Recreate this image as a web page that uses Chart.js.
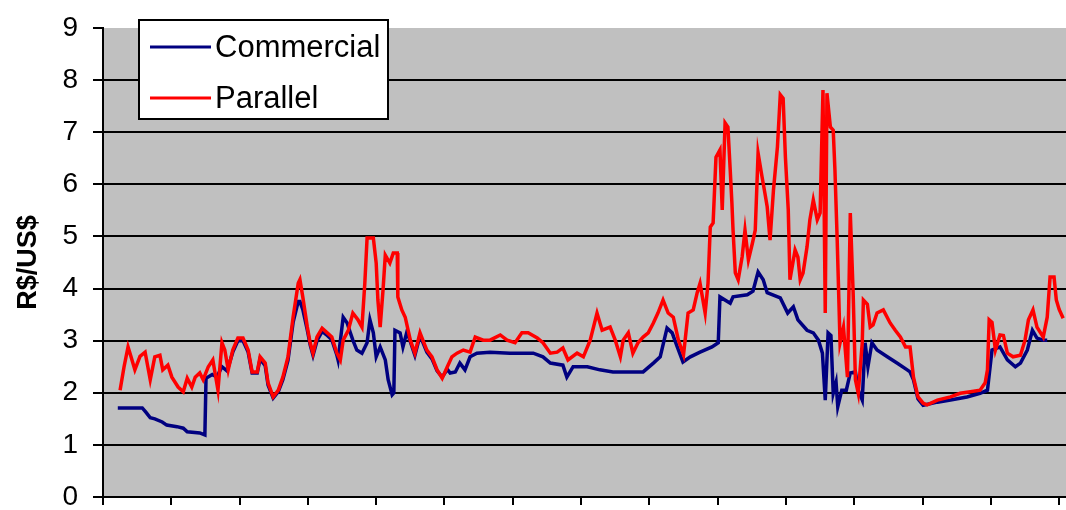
<!DOCTYPE html>
<html>
<head>
<meta charset="utf-8">
<script src="https://cdn.jsdelivr.net/npm/chart.js@4.4.1/dist/chart.umd.min.js"></script>
<style>
  body { margin: 0; background: #fff; }
  #wrap { width: 1066px; height: 510px; position: relative; }
</style>
</head>
<body>
<div id="wrap"><canvas id="fxChart"></canvas></div>
<script>
// x = months since start of axis (one tick every 12 months)
const parallelMonths = [
  3.0, 3.7, 4.4, 4.9, 5.6, 6.5, 7.4, 8.3, 9.1, 10.0, 10.5, 11.4, 12.1, 13.2, 14.1, 14.8, 15.6, 16.2, 17.0, 17.6,
  18.5, 19.3, 20.2, 20.9, 21.4, 22.0, 22.8, 23.7, 24.6, 25.5, 26.2, 27.1, 27.6, 28.5, 29.0, 29.9, 30.8, 31.6, 32.5, 33.4,
  34.3, 34.6, 35.1, 35.9, 36.4, 36.9, 37.6, 38.5, 39.4, 40.2, 41.1, 41.7, 42.2, 43.1, 43.9, 44.8, 45.5, 46.0, 46.4, 47.5,
  48.0, 48.3, 48.7, 49.2, 49.6, 50.4, 51.0, 51.7, 51.8, 52.5, 53.1, 54.0, 54.8, 55.7, 56.2, 56.9, 57.8, 58.7, 59.6, 60.5,
  61.3, 62.2, 63.3, 64.5, 65.4, 66.8, 68.0, 69.8, 71.0, 72.4, 73.6, 74.7, 76.3, 77.3, 78.6, 79.8, 80.8, 81.7, 83.3, 84.4,
  85.6, 86.8, 87.7, 89.1, 90.0, 90.9, 91.4, 92.3, 93.1, 94.0, 94.9, 95.8, 96.7, 97.5, 98.4, 99.3, 100.2, 101.1, 102.0, 102.8,
  103.7, 104.4, 104.9, 105.8, 106.3, 106.7, 107.2, 107.7, 108.4, 108.8, 109.3, 109.8, 110.2, 110.5, 110.7, 111.1, 111.6, 112.3, 112.8, 113.4,
  114.1, 114.6, 115.1, 115.8, 116.3, 116.7, 117.2, 117.8, 118.5, 119.0, 119.5, 119.9, 120.4, 120.7, 121.6, 122.1, 122.5, 123.0, 123.7, 124.2,
  124.8, 125.5, 126.0, 126.5, 126.9, 127.2, 127.8, 128.3, 128.6, 129.0, 129.5, 130.1, 130.8, 131.3, 131.8, 132.2, 132.7, 133.4, 133.6, 134.3,
  134.8, 135.3, 136.0, 137.1, 138.3, 139.2, 140.1, 141.0, 141.8, 142.4, 143.2, 144.1, 144.8, 146.6, 148.9, 150.6, 152.4, 154.1, 155.0, 155.4,
  155.7, 156.2, 156.8, 157.6, 158.2, 158.9, 159.9, 161.2, 162.0, 162.6, 163.4, 164.1, 165.2, 165.9, 166.4, 167.1, 167.5, 168.0, 168.7
];
const parallel = [
  2.05, 2.50, 2.88, 2.70, 2.44, 2.70, 2.78, 2.25, 2.69, 2.72, 2.44, 2.53, 2.30, 2.11, 2.02, 2.28, 2.11, 2.30, 2.38, 2.25,
  2.50, 2.63, 2.05, 2.96, 2.82, 2.44, 2.82, 3.05, 3.05, 2.82, 2.40, 2.40, 2.69, 2.57, 2.19, 1.92, 2.05, 2.30, 2.69, 3.45,
  4.10, 4.17, 3.84, 3.26, 2.96, 2.76, 3.07, 3.24, 3.15, 3.07, 2.76, 2.63, 3.01, 3.20, 3.53, 3.40, 3.26, 4.10, 4.97, 4.97,
  4.49, 3.78, 3.26, 3.97, 4.64, 4.49, 4.68, 4.68, 3.84, 3.59, 3.45, 3.01, 2.76, 3.15, 3.01, 2.82, 2.69, 2.44, 2.28, 2.50,
  2.69, 2.76, 2.82, 2.78, 3.07, 3.01, 3.01, 3.11, 3.01, 2.96, 3.15, 3.15, 3.05, 2.96, 2.76, 2.78, 2.86, 2.63, 2.76, 2.69,
  3.01, 3.53, 3.20, 3.26, 3.01, 2.69, 3.01, 3.15, 2.76, 2.96, 3.07, 3.15, 3.34, 3.53, 3.78, 3.53, 3.45, 3.01, 2.73, 3.53,
  3.59, 3.92, 4.10, 3.53, 4.10, 5.18, 5.26, 6.52, 6.66, 5.51, 7.18, 7.10, 6.28, 5.64, 5.12, 4.30, 4.17, 4.61, 5.12, 4.55,
  4.87, 5.12, 6.60, 6.14, 5.83, 5.57, 4.93, 5.89, 6.72, 7.72, 7.65, 6.52, 5.51, 4.17, 4.74, 4.60, 4.17, 4.30, 4.80, 5.32,
  5.70, 5.32, 5.45, 7.81, 3.53, 7.75, 7.10, 7.04, 6.28, 4.93, 2.96, 3.26, 2.30, 5.45, 3.92, 2.25, 1.99, 2.96, 3.78, 3.70,
  3.26, 3.30, 3.53, 3.59, 3.34, 3.20, 3.07, 2.88, 2.88, 2.30, 1.92, 1.80, 1.77, 1.86, 1.92, 1.99, 2.02, 2.05, 2.19, 2.44,
  3.40, 3.35, 2.82, 3.11, 3.10, 2.76, 2.69, 2.72, 3.01, 3.40, 3.59, 3.26, 3.07, 3.45, 4.22, 4.22, 3.78, 3.60, 3.43
];

const commercialMonths = [
  2.6, 4.7, 6.9, 7.6, 8.3, 9.1, 10.4, 11.2, 13.0, 14.1, 14.8, 17.0, 17.9, 18.1, 19.2, 20.0, 20.9, 21.8, 22.8, 23.7,
  24.6, 25.5, 26.2, 27.1, 27.6, 28.5, 29.0, 29.9, 30.8, 31.6, 32.5, 33.4, 34.3, 34.6, 35.1, 35.9, 36.4, 36.9, 37.6, 38.5,
  39.4, 40.2, 41.1, 41.3, 42.2, 42.9, 43.4, 43.9, 44.6, 45.5, 46.4, 46.9, 47.5, 48.0, 48.7, 49.6, 50.1, 50.8, 51.1, 51.3,
  52.2, 52.7, 53.4, 54.0, 54.8, 55.7, 56.2, 56.9, 57.8, 58.7, 59.6, 60.5, 61.0, 61.9, 62.7, 63.6, 64.5, 65.7, 68.0, 71.5,
  75.6, 77.3, 78.6, 80.8, 81.5, 82.6, 85.1, 87.3, 89.6, 92.1, 94.9, 96.7, 97.9, 99.1, 100.0, 100.9, 101.9, 103.2, 104.9, 107.0,
  108.1, 108.4, 110.2, 110.7, 113.2, 114.2, 115.1, 116.0, 116.7, 119.0, 120.3, 121.3, 122.1, 123.7, 124.8, 125.7, 126.4, 126.9, 127.4, 127.9,
  128.3, 128.8, 129.1, 129.8, 130.6, 131.3, 132.2, 132.7, 133.4, 133.9, 134.4, 135.1, 136.0, 137.8, 139.5, 141.3, 141.8, 142.4, 143.2, 144.1,
  146.6, 148.9, 151.8, 154.1, 155.4, 156.2, 157.6, 158.9, 160.3, 161.2, 162.4, 163.3, 164.1, 165.2, 165.9
];
const commercial = [
  1.71, 1.71, 1.71, 1.62, 1.52, 1.50, 1.44, 1.38, 1.35, 1.32, 1.25, 1.23, 1.19, 2.28, 2.35, 2.30, 2.50, 2.42, 2.78, 3.00,
  3.00, 2.78, 2.38, 2.38, 2.65, 2.52, 2.15, 1.90, 2.02, 2.25, 2.62, 3.35, 3.75, 3.75, 3.60, 3.20, 2.92, 2.72, 3.00, 3.18,
  3.10, 3.02, 2.72, 2.63, 3.45, 3.34, 3.17, 3.01, 2.82, 2.76, 2.96, 3.40, 3.15, 2.69, 2.88, 2.63, 2.25, 1.96, 2.00, 3.20,
  3.15, 2.88, 3.17, 2.98, 2.72, 3.10, 2.97, 2.78, 2.65, 2.42, 2.30, 2.45, 2.38, 2.40, 2.57, 2.44, 2.69, 2.76, 2.78, 2.76,
  2.76, 2.69, 2.57, 2.53, 2.30, 2.50, 2.50, 2.44, 2.40, 2.40, 2.40, 2.57, 2.69, 3.24, 3.15, 2.88, 2.59, 2.69, 2.78, 2.88,
  2.96, 3.84, 3.72, 3.84, 3.88, 3.95, 4.32, 4.17, 3.92, 3.82, 3.53, 3.65, 3.40, 3.20, 3.15, 3.01, 2.76, 1.86, 3.15, 3.10,
  1.99, 2.20, 1.73, 2.05, 2.05, 2.38, 2.40, 2.05, 1.86, 2.96, 2.50, 2.96, 2.82, 2.69, 2.57, 2.44, 2.40, 2.25, 1.88, 1.76,
  1.82, 1.86, 1.92, 1.99, 2.05, 2.82, 2.88, 2.63, 2.50, 2.57, 2.82, 3.20, 3.05, 3.01, 3.01
];

const yTicks = [0, 1, 2, 3, 4, 5, 6, 7, 8, 9];
const FONT = '"Liberation Sans", Arial, sans-serif';

const plotBackground = {
  id: 'plotBackground',
  beforeDraw(chart) {
    const { ctx, chartArea: a } = chart;
    ctx.save();
    ctx.fillStyle = '#c0c0c0';
    ctx.fillRect(a.left, a.top, a.right - a.left, a.bottom - a.top);
    ctx.restore();
  }
};

// legend box drawn inside the plot, like the original
const boxLegend = {
  id: 'boxLegend',
  afterDraw(chart) {
    const ctx = chart.ctx;
    const items = chart.data.datasets.map(d => ({ label: d.label, color: d.borderColor }));
    ctx.save();
    ctx.fillStyle = '#fff';
    ctx.fillRect(139, 20, 249, 99);
    ctx.strokeStyle = '#000';
    ctx.lineWidth = 2;
    ctx.strokeRect(139, 20, 249, 99);
    ctx.font = '31px ' + FONT;
    ctx.textBaseline = 'middle';
    items.forEach((it, i) => {
      const y = 47 + i * 51;
      ctx.strokeStyle = it.color;
      ctx.lineWidth = 3;
      ctx.beginPath();
      ctx.moveTo(150, y);
      ctx.lineTo(211, y);
      ctx.stroke();
      ctx.fillStyle = '#000';
      ctx.fillText(it.label, 215, y + 1);
    });
    ctx.restore();
  }
};

new Chart(document.getElementById('fxChart'), {
  type: 'line',
  data: {
    datasets: [
      {
        label: 'Commercial',
        data: commercialMonths.map((m, i) => ({ x: m, y: commercial[i] })),
        borderColor: '#000080',
        borderWidth: 3.5,
        pointRadius: 0,
        fill: false,
        order: 1
      },
      {
        label: 'Parallel',
        data: parallelMonths.map((m, i) => ({ x: m, y: parallel[i] })),
        borderColor: '#ff0000',
        borderWidth: 3.5,
        pointRadius: 0,
        fill: false,
        order: 0
      }
    ]
  },
  options: {
    responsive: true,
    maintainAspectRatio: false,
    animation: false,
    layout: { padding: { top: 28, right: 0, bottom: 0, left: 0 } },
    plugins: {
      legend: { display: false },
      tooltip: { enabled: false }
    },
    scales: {
      x: {
        type: 'linear',
        min: 0,
        max: 169.2,
        ticks: { stepSize: 12, display: false, includeBounds: false },
        grid: { drawOnChartArea: false, color: '#000', lineWidth: 2, tickLength: 8 },
        border: { color: '#000', width: 2 },
        afterFit: s => { s.height = 13; s.paddingLeft = 0; s.paddingRight = 0; }
      },
      y: {
        min: 0,
        max: 9,
        afterBuildTicks: s => { s.ticks = yTicks.map(v => ({ value: v })); },
        ticks: { color: '#000', font: { size: 28, family: FONT }, padding: 15 },
        grid: {
          color: c => (c.tick && c.tick.value === 9 ? 'rgba(0,0,0,0)' : '#000'),
          tickColor: '#000',
          lineWidth: 2,
          tickLength: 10
        },
        border: { color: '#000', width: 2 },
        title: {
          display: true,
          text: 'R$/US$',
          color: '#000',
          font: { size: 27, weight: 'bold', family: FONT },
          padding: { top: 12, bottom: 0 }
        },
        afterFit: s => { s.width = 103; s.paddingTop = 0; s.paddingBottom = 0; }
      }
    }
  },
  plugins: [plotBackground, boxLegend]
});
</script>
</body>
</html>
